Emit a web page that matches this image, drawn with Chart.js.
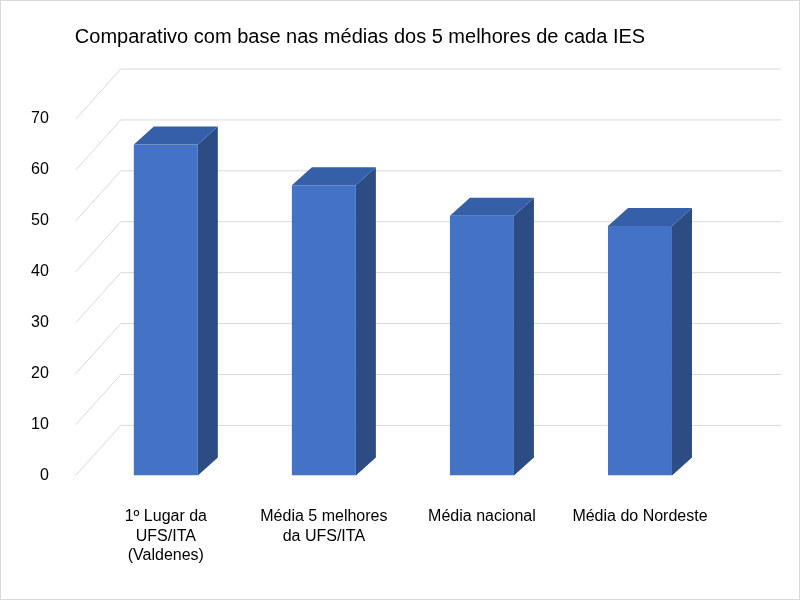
<!DOCTYPE html>
<html>
<head>
<meta charset="utf-8">
<script src="https://cdn.jsdelivr.net/npm/chart.js@4"></script>
<style>
  html, body { margin: 0; padding: 0; background: #fff; }
  #wrap { width: 798px; height: 598px; border: 1px solid #d9d9d9; }
</style>
</head>
<body>
<div id="wrap"><canvas id="chart" width="798" height="598"></canvas></div>
<script>
var categories = [
  ['1º Lugar da', 'UFS/ITA', '(Valdenes)'],
  ['Média 5 melhores', 'da UFS/ITA'],
  'Média nacional',
  'Média do Nordeste'
];
var values = [65, 57, 51, 49];
var yTicks = [0, 10, 20, 30, 40, 50, 60, 70];

var FONT = '"Liberation Sans", Arial, sans-serif';

// 3D depth of the bars and of the walls
var BAR_DX = 20, BAR_DY = 18;
var WALL_DX = 45, WALL_DY = 50;

var threeD = {
  id: 'threeD',
  beforeDatasetsDraw: function(chart) {
    var ctx = chart.ctx, y = chart.scales.y, area = chart.chartArea;
    ctx.save();
    ctx.strokeStyle = '#d9d9d9';
    ctx.lineWidth = 1;
    yTicks.forEach(function(v) {
      var yF = y.getPixelForValue(v);
      ctx.beginPath();
      ctx.moveTo(area.left - 11, yF);
      ctx.lineTo(area.left - 11 + WALL_DX, yF - WALL_DY);
      ctx.lineTo(chart.width - 18, yF - WALL_DY);
      ctx.stroke();
    });

    // side and top faces of each bar
    chart.getDatasetMeta(0).data.forEach(function(bar) {
      var l = bar.x - bar.width / 2, r = bar.x + bar.width / 2;
      ctx.fillStyle = '#2C4C83';
      ctx.beginPath();
      ctx.moveTo(r, bar.y);
      ctx.lineTo(r + BAR_DX, bar.y - BAR_DY);
      ctx.lineTo(r + BAR_DX, bar.base - BAR_DY);
      ctx.lineTo(r, bar.base);
      ctx.closePath();
      ctx.fill();
      ctx.fillStyle = '#355FA8';
      ctx.beginPath();
      ctx.moveTo(l, bar.y);
      ctx.lineTo(l + BAR_DX, bar.y - BAR_DY);
      ctx.lineTo(r + BAR_DX, bar.y - BAR_DY);
      ctx.lineTo(r, bar.y);
      ctx.closePath();
      ctx.fill();
    });
    ctx.restore();
  }
};

new Chart(document.getElementById('chart'), {
  type: 'bar',
  data: {
    labels: categories,
    datasets: [{
      data: values,
      backgroundColor: '#4472C4',
      barPercentage: 0.405,
      categoryPercentage: 1
    }]
  },
  options: {
    responsive: false,
    animation: false,
    layout: { padding: { left: 0, right: 80, top: 0, bottom: 10 } },
    plugins: {
      legend: { display: false },
      tooltip: { enabled: false },
      title: {
        display: true,
        text: 'Comparativo com base nas médias dos 5 melhores de cada IES',
        color: '#000',
        font: { family: FONT, size: 20, weight: 'normal' },
        padding: { top: 24, bottom: 70 }
      }
    },
    scales: {
      x: {
        grid: { display: false },
        border: { display: false },
        ticks: { color: '#000', font: { family: FONT, size: 16 }, maxRotation: 0, padding: 24 }
      },
      y: {
        min: 0, max: 70,
        grid: { display: false },
        border: { display: false },
        ticks: { stepSize: 10, color: '#000', font: { family: FONT, size: 16 }, padding: 30 }
      }
    }
  },
  plugins: [threeD]
});
</script>
</body>
</html>
